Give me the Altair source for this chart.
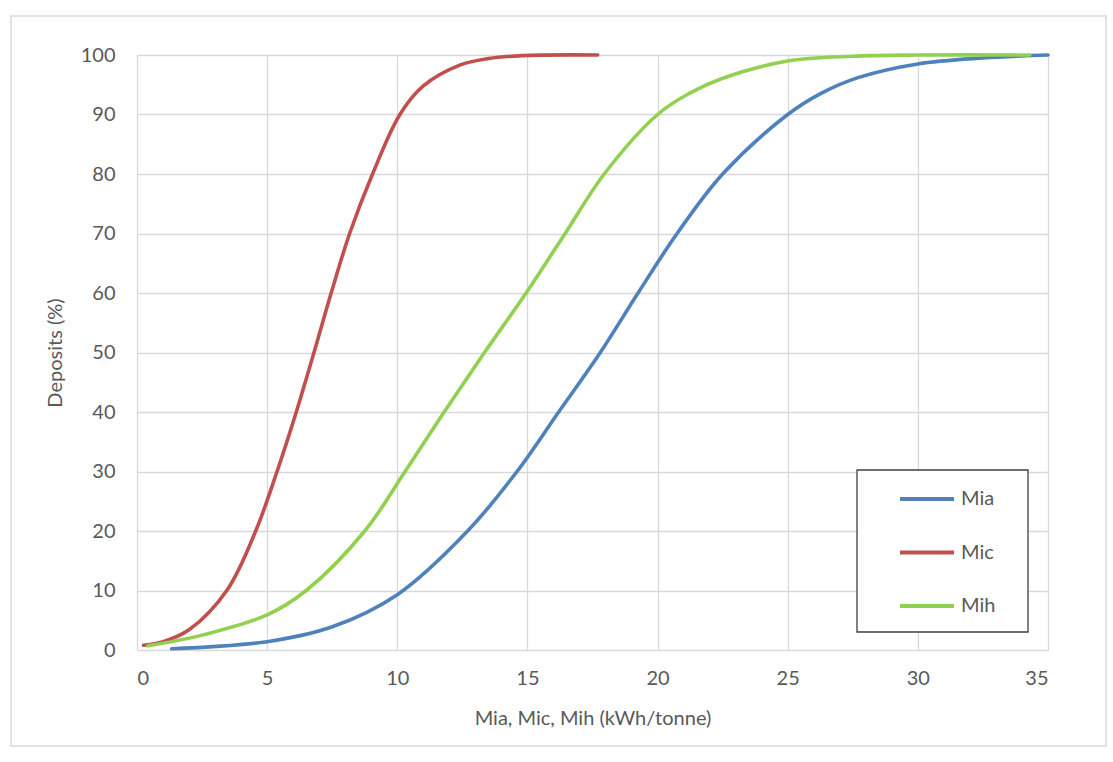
import altair as alt
import pandas as pd

# Cumulative share of deposits against specific energy, per index
mia_x = [1.33, 5.0, 7.5, 10.0, 12.7, 14.6, 16.2, 17.8, 19.25, 20.75, 22.5, 25.0, 26.3, 27.7, 30.0, 32.5, 35.0]
mia_y = [0.2, 1.4, 3.9, 9.3, 20, 30, 40, 50, 60, 70, 80, 90, 93.6, 96.2, 98.5, 99.5, 100]

mic_x = [0.25, 1.0, 2.0, 3.45, 4.56, 5.38, 6.12, 6.8, 7.46, 8.17, 9.05, 10.1, 11.0, 12.4, 13.5, 14.8, 17.7]
mic_y = [0.8, 1.4, 3.4, 10, 20, 30, 40, 50, 60, 70, 80, 90, 94.8, 98.3, 99.4, 99.9, 100]

mih_x = [0.42, 2.5, 5.0, 6.5, 8.75, 10.3, 11.8, 13.35, 14.95, 16.45, 17.95, 20.0, 21.2, 22.5, 25.0, 27.5, 30.0, 34.3]
mih_y = [0.7, 2.5, 5.9, 10, 20, 30, 40, 50, 60, 70, 80, 90, 93.5, 96.1, 99.0, 99.8, 100, 100]

series_names = ["Mia", "Mic", "Mih"]
series_colors = ["#4F81BD", "#C0504D", "#92D050"]

frames = []
for name, xs, ys in zip(series_names, [mia_x, mic_x, mih_x], [mia_y, mic_y, mih_y]):
    frames.append(pd.DataFrame({"energy": xs, "deposits": ys, "series": name}))
df = pd.concat(frames, ignore_index=True)
df["order"] = range(len(df))

FONT = "Lato"
GREY = "#595959"

lines = alt.Chart(df).mark_line(strokeWidth=3.6, interpolate="catmull-rom", strokeCap="round").encode(
    x=alt.X(
        "energy:Q",
        scale=alt.Scale(domain=[0, 35], nice=False),
        axis=alt.Axis(
            values=[0, 5, 10, 15, 20, 25, 30, 35],
            title="Mia, Mic, Mih (kWh/tonne)",
            titleY=68,
            titleBaseline="middle",
        ),
    ),
    y=alt.Y(
        "deposits:Q",
        scale=alt.Scale(domain=[0, 100], nice=False),
        axis=alt.Axis(
            values=list(range(0, 101, 10)),
            title="Deposits (%)",
            titleX=-82,
            titleBaseline="middle",
        ),
    ),
    color=alt.Color(
        "series:N",
        scale=alt.Scale(domain=series_names, range=series_colors),
        legend=alt.Legend(
            title=None,
            orient="none",
            legendX=761,
            legendY=415,
            symbolType="stroke",
            symbolSize=2916,
            symbolStrokeWidth=4,
            labelFontSize=20,
            labelFont=FONT,
            labelColor=GREY,
            labelOffset=5,
            padding=0,
            rowPadding=14.5,
        ),
    ),
    order="order:Q",
)

# Legend frame with white fill, sitting above the gridlines
legend_box = alt.Chart(alt.Data(values=[{}])).mark_rect(
    fill="white", stroke="#404040", strokeWidth=1.3
).encode(
    x=alt.value(720), x2=alt.value(891), y=alt.value(415), y2=alt.value(577)
)

# Thin frame around the whole chart area
outer_frame = alt.Chart(alt.Data(values=[{}])).mark_rect(
    fill=None, stroke="#D9D9D9", strokeWidth=1.5, clip=False
).encode(
    x=alt.value(-126), x2=alt.value(969), y=alt.value(-39), y2=alt.value(691)
)

chart = alt.layer(outer_frame, legend_box, lines).properties(
    width=911,
    height=595,
    autosize=alt.AutoSizeParams(type="none"),
    padding={"left": 137, "top": 55, "right": 65, "bottom": 112},
    background="white",
).configure_view(
    stroke=None
).configure_axis(
    grid=True,
    gridColor="#D9D9D9",
    gridWidth=1.3,
    domain=False,
    ticks=False,
    labelFont=FONT,
    labelFontSize=20,
    labelColor=GREY,
    titleFont=FONT,
    titleFontSize=20,
    titleFontWeight="normal",
    titleColor=GREY,
).configure_axisX(
    labelPadding=18,
).configure_axisY(
    labelPadding=22,
)

chart.save("out.html", embed_options={"renderer": "svg", "actions": False})
